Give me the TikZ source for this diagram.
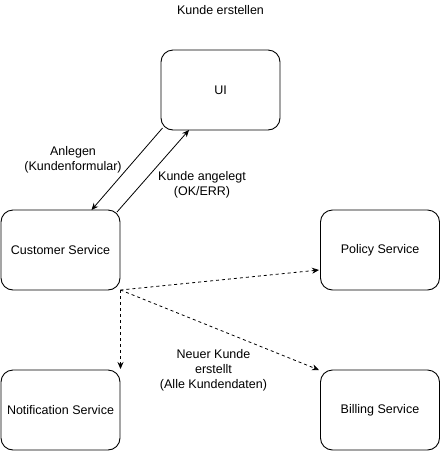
\documentclass[tikz,border=0pt]{standalone}
\usepackage{fontspec}
\setmainfont{Liberation Sans}
\usetikzlibrary{arrows.meta}
\begin{document}
\begin{tikzpicture}[x=1pt,y=-1pt,
  box/.style={draw, line width=0.9pt, rounded corners=12pt, minimum width=119pt, minimum height=80pt, inner sep=0pt, font=\fontsize{12.5}{15}\selectfont},
  lbl/.style={align=center, font=\fontsize{12.5}{15}\selectfont, inner sep=0pt},
  conn/.style={line width=0.8pt, -{Stealth[length=7pt,width=6pt]}},
  dconn/.style={conn, dash pattern=on 3pt off 3pt}]
\useasboundingbox (0,0) rectangle (441,459);
\node[box] (ui) at (220.5,90) {UI};
\node[box] (cs) at (60.5,250) {Customer Service};
\node[box] (ps) at (380,250) {Policy Service};
\node[box] (ns) at (60.5,410) {Notification Service};
\node[box] (bs) at (380,410) {Billing Service};
\node[lbl] (title) at (220.5,10) {Kunde erstellen};
\coordinate (a1s) at (162.5,128);
\coordinate (a1e) at (91.5,210);
\coordinate (a2s) at (117,212);
\coordinate (a2e) at (189,130);
\coordinate (d) at (120.5,290);
\coordinate (dp) at (319,270);
\coordinate (db) at (319,370);
\coordinate (dn) at (120.5,369);
\draw[conn] (a1s) -- (a1e);
\draw[conn] (a2s) -- (a2e);
\draw[dconn] (d) -- (dp);
\draw[dconn] (d) -- (db);
\draw[dconn] (d) -- (dn);
\node[lbl] (l1) at (73,160) {Anlegen\\(Kundenformular)};
\node[lbl] (l2) at (202,185) {Kunde angelegt\\(OK/ERR)};
\node[lbl] (l3) at (213.5,370) {Neuer Kunde\\erstellt\\(Alle Kundendaten)};
\end{tikzpicture}
\end{document}
